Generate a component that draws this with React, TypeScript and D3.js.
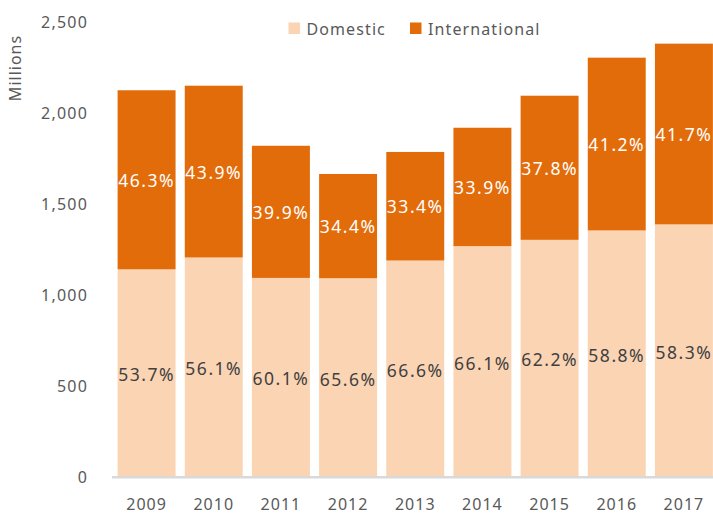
import React from "react";
import * as d3 from "d3";

const years = ["2009", "2010", "2011", "2012", "2013", "2014", "2015", "2016", "2017"];
const totals = [2125, 2150, 1820, 1665, 1786, 1919, 2095, 2304, 2381];
const domesticShare = [53.7, 56.1, 60.1, 65.6, 66.6, 66.1, 62.2, 58.8, 58.3];
const yTicks = [0, 500, 1000, 1500, 2000, 2500];
const seriesNames = ["Domestic", "International"];

const W = 713;
const H = 515;
const FONT = "'Noto Sans', 'Open Sans', sans-serif";
const COL_DOM = "#FBD4B4";
const COL_INT = "#E36C0A";
const TXT = "#595959";

export default function App() {
  const x = d3
    .scaleBand<string>()
    .domain(years)
    .range([113, 717.5])
    .paddingInner(0.137)
    .paddingOuter(0.0685);
  const y = d3.scaleLinear().domain([0, 2500]).range([477, 22]);

  const rows = years.map((yr, i) => {
    const dom = (totals[i] * domesticShare[i]) / 100;
    const intl = totals[i] - dom;
    return { yr, dom, intl, dShare: domesticShare[i], iShare: 100 - domesticShare[i] };
  });
  const stack = d3.stack<any>().keys(["dom", "intl"])(rows as any);

  const fmt = d3.format(",");

  return (
    <svg
      width={W}
      height={H}
      style={{ position: "absolute", left: 0, top: 0, background: "#fff" }}
      fontFamily={FONT}
    >
      {stack.map((layer, li) =>
        layer.map((d, i) => (
          <rect
            key={`${li}-${i}`}
            x={x(years[i])}
            width={x.bandwidth()}
            y={y(d[1])}
            height={y(d[0]) - y(d[1]) - (li === 0 ? 1 : 0)}
            fill={li === 0 ? COL_DOM : COL_INT}
          />
        ))
      )}
      {stack.map((layer, li) =>
        layer.map((d, i) => (
          <text
            key={`l${li}-${i}`}
            x={(x(years[i]) as number) + x.bandwidth() / 2}
            y={(y(d[0]) + y(d[1])) / 2 + (li === 0 ? 8 : 7)}
            textAnchor="middle"
            fontSize={17.5}
            letterSpacing={1.5}
            fill={li === 0 ? "#404040" : "#ffffff"}
          >
            {(li === 0 ? rows[i].dShare : rows[i].iShare).toFixed(1) + "%"}
          </text>
        ))
      )}
      <line x1={112} x2={W} y1={477.3} y2={477.3} stroke="#D9D9D9" strokeWidth={2.6} />
      {yTicks.map((t) => (
        <text
          key={t}
          x={88}
          y={y(t) + 6}
          textAnchor="end"
          fontSize={16}
          letterSpacing={1.2}
          fill={TXT}
        >
          {fmt(t)}
        </text>
      ))}
      {years.map((yr) => (
        <text
          key={yr}
          x={(x(yr) as number) + x.bandwidth() / 2}
          y={510}
          textAnchor="middle"
          fontSize={16}
          letterSpacing={1}
          fill={TXT}
        >
          {yr}
        </text>
      ))}
      <text
        transform="translate(21,68) rotate(-90)"
        textAnchor="middle"
        fontSize={16}
        letterSpacing={1}
        fill={TXT}
      >
        Millions
      </text>
      <rect x={288.5} y={22.5} width={11.5} height={11.5} fill={COL_DOM} />
      <text x={306.5} y={34.5} fontSize={16} letterSpacing={1.1} fill={TXT}>
        {seriesNames[0]}
      </text>
      <rect x={410} y={22.5} width={11.5} height={11.5} fill={COL_INT} />
      <text x={428} y={34.5} fontSize={16} letterSpacing={1.1} fill={TXT}>
        {seriesNames[1]}
      </text>
    </svg>
  );
}
